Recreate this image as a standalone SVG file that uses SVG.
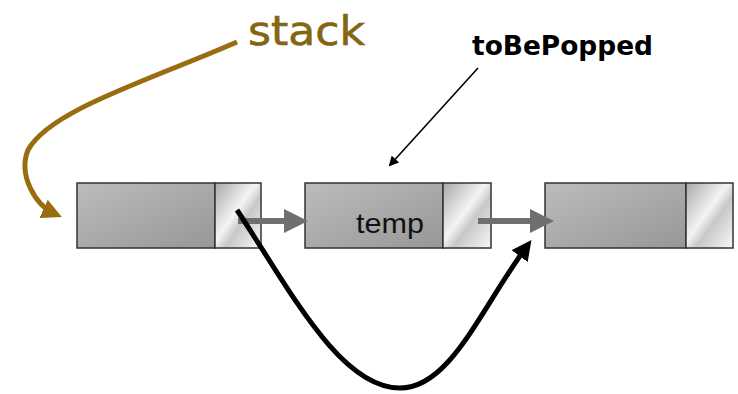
<svg xmlns="http://www.w3.org/2000/svg" width="738" height="394" viewBox="0 0 738 394">
<style>
.data{fill:url(#gData);stroke:#333;stroke-width:1.5}
.ptr{fill:url(#gPtr);stroke:#333;stroke-width:1.5}
.gray{stroke:#6f6f6f;stroke-width:6;fill:none}
</style>
<defs>
<linearGradient id="gData" x1="0" y1="0" x2="1" y2="1">
<stop offset="0" stop-color="#bcbcbc"/>
<stop offset="1" stop-color="#979797"/>
</linearGradient>
<linearGradient id="gPtr" x1="0" y1="0" x2="1" y2="1">
<stop offset="0" stop-color="#a8a8a8"/>
<stop offset="0.45" stop-color="#f4f4f4"/>
<stop offset="0.6" stop-color="#c8c8c8"/>
<stop offset="1" stop-color="#f8f8f8"/>
</linearGradient>
<marker id="aGray" markerWidth="4" markerHeight="4" refX="3" refY="2" orient="auto" markerUnits="strokeWidth">
<path d="M0,0 L4,2 L0,4 z" fill="#6f6f6f"/>
</marker>
<marker id="aBlack" markerWidth="4" markerHeight="4" refX="2.5" refY="2" orient="auto" markerUnits="strokeWidth">
<path d="M0,0 L4,2 L0,4 z" fill="#000"/>
</marker>
<marker id="aThin" markerWidth="10" markerHeight="10" refX="8" refY="5" orient="auto" markerUnits="userSpaceOnUse">
<path d="M0,0 L10,5 L0,10 z" fill="#000"/>
</marker>
<marker id="aGold" markerWidth="4" markerHeight="4" refX="2.5" refY="2" orient="auto" markerUnits="strokeWidth">
<path d="M0,0 L4,2 L0,4 z" fill="#9a6c10"/>
</marker>
</defs>
<rect width="738" height="394" fill="#fff"/>
<g id="node1">
<rect class="data" x="77" y="183" width="138" height="65"/>
<rect class="ptr" x="215" y="183" width="46" height="65"/>
</g>
<g id="node2">
<rect class="data" x="305" y="183" width="138" height="65"/>
<rect class="ptr" x="443" y="183" width="48" height="65"/>
<text x="356" y="233" font-family="Liberation Sans, Arial, sans-serif" font-size="28" fill="#111" textLength="68" lengthAdjust="spacingAndGlyphs">temp</text>
</g>
<g id="node3">
<rect class="data" x="545" y="183" width="141" height="65"/>
<rect class="ptr" x="686" y="183" width="47" height="65"/>
</g>
<g id="stack">
<text x="248" y="45" font-family="DejaVu Sans, Verdana, sans-serif" font-size="41" fill="#836512" stroke="#836512" stroke-width="0.6" textLength="117" lengthAdjust="spacingAndGlyphs">stack</text>
</g>
<g id="toBePopped">
<text x="472" y="55" font-family="DejaVu Sans, Verdana, sans-serif" font-weight="bold" font-size="27" fill="#000" textLength="181" lengthAdjust="spacingAndGlyphs">toBePopped</text>
</g>
<g id="connectors">
<path class="gray" d="M238,221 L302,221" marker-end="url(#aGray)"/>
<path class="gray" d="M478,221 L548,221" marker-end="url(#aGray)"/>
<path d="M478,68 L390,165" stroke="#000" stroke-width="1.6" fill="none" marker-end="url(#aThin)"/>
<path d="M237,42 C150,80 50,110 28,150 C18,175 35,205 55,214" stroke="#9a6c10" stroke-width="5" fill="none" marker-end="url(#aGold)"/>
<path d="M237,210 C290,290 340,388 400,388 C450,388 480,310 527,246" stroke="#000" stroke-width="5" fill="none" marker-end="url(#aBlack)"/>
</g>
</svg>
